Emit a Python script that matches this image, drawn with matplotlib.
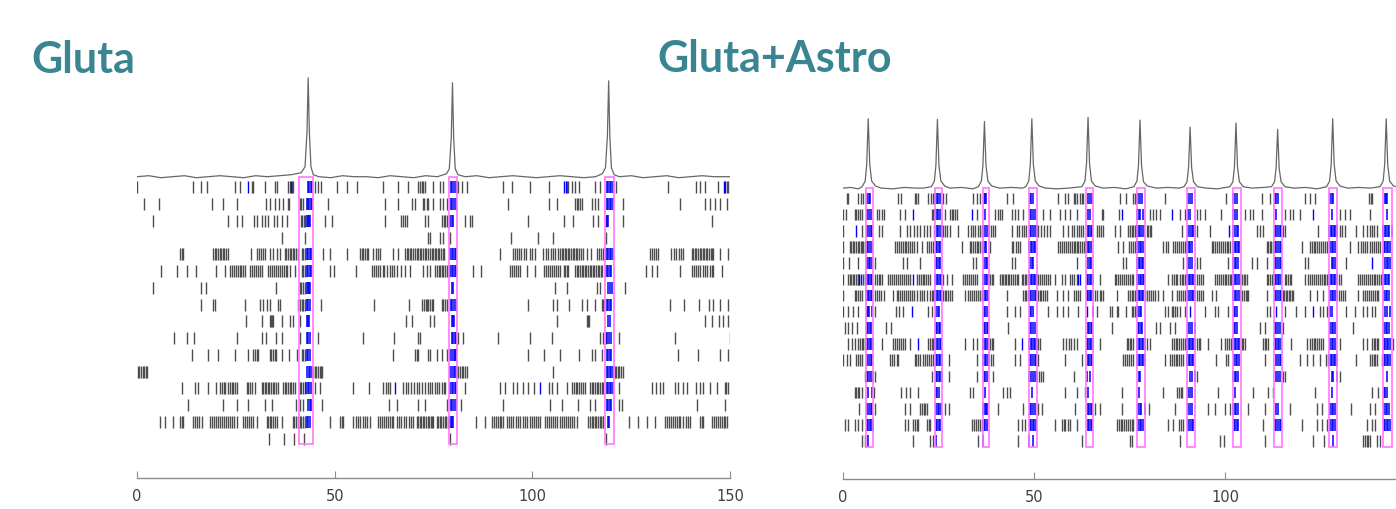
import numpy as np
import matplotlib
matplotlib.use("Agg")
import matplotlib.pyplot as plt
from matplotlib.patches import Rectangle

# --- Gluta panel: spike times (sec), one list per cell, top row first ---
gluta_spikes = [
    [0.1, 14.2, 16.1, 17.6, 24.8, 26.1, 29.0, 29.3, 32.4, 34.9, 35.3, 38.3, 38.7, 39.1, 39.5, 43.3, 43.6, 43.9, 44.2,
     45.0, 45.9, 46.5, 50.5, 53.0, 55.6, 62.3, 66.1, 68.6, 71.2, 71.6, 72.0, 72.4, 72.9, 75.0, 76.7, 77.3, 79.4, 79.8,
     80.2, 80.6, 80.9, 81.3, 82.1, 83.4, 92.7, 94.8, 99.3, 104.1, 108.8, 109.1, 110.0, 110.8, 111.9, 115.9, 117.1,
     118.8, 119.2, 119.6, 120.0, 120.4, 121.2, 134.2, 141.4, 142.4, 143.7, 146.9, 149.2, 149.6],
    [1.8, 5.6, 18.9, 21.8, 25.2, 32.6, 33.6, 34.9, 36.0, 37.0, 38.3, 38.5, 41.2, 41.6, 42.1, 43.0, 43.3, 43.6, 43.9,
     44.2, 48.4, 62.7, 66.1, 69.5, 70.2, 72.4, 72.6, 73.3, 73.7, 75.0, 76.7, 77.5, 78.3, 79.4, 79.8, 80.2, 80.6, 93.9,
     104.1, 106.2, 110.8, 111.2, 111.6, 112.0, 112.5, 115.0, 115.9, 116.7, 118.8, 119.2, 119.6, 120.0, 120.3, 122.9,
     137.4, 143.7, 145.0, 146.2, 147.5, 149.2],
    [4.0, 23.1, 25.2, 26.5, 29.6, 30.3, 31.5, 32.4, 33.2, 34.7, 35.3, 36.6, 37.9, 41.4, 41.8, 42.2, 42.5, 42.9, 43.2,
     43.5, 43.8, 47.6, 49.2, 62.7, 66.9, 67.3, 67.8, 68.2, 72.9, 73.7, 77.1, 77.6, 78.0, 78.4, 78.8, 79.3, 79.6, 80.0,
     83.0, 84.2, 84.7, 99.0, 107.9, 110.4, 115.4, 116.7, 118.6, 118.9, 119.2, 123.0, 145.4],
    [36.8, 42.6, 73.7, 74.1, 76.7, 77.5, 79.1, 94.5, 101.5, 105.3, 118.6],
    [10.9, 11.3, 11.6, 19.3, 19.7, 20.1, 20.5, 20.9, 21.3, 21.7, 22.1, 22.6, 23.1, 28.8, 30.3, 30.8, 31.3, 31.8, 32.4,
     33.6, 34.5, 35.3, 36.2, 37.4, 37.8, 38.2, 38.6, 39.0, 39.4, 39.8, 40.2, 40.6, 41.7, 42.1, 42.5, 42.9, 43.3, 43.7,
     44.1, 47.1, 48.8, 53.0, 56.4, 56.8, 57.2, 57.7, 58.1, 58.5, 59.8, 60.4, 61.0, 61.5, 64.8, 66.1, 67.8, 68.2, 68.6,
     69.0, 69.4, 69.9, 70.3, 70.7, 71.1, 71.5, 71.9, 72.4, 72.8, 73.2, 73.7, 74.1, 74.5, 74.9, 75.3, 75.7, 76.1, 76.5,
     76.9, 77.3, 77.7, 79.3, 79.6, 80.0, 80.4, 80.8, 91.7, 95.2, 95.7, 96.2, 96.6, 97.1, 97.8, 98.5, 99.3, 100.0,
     100.7, 102.8, 103.4, 104.0, 104.6, 105.2, 105.8, 106.4, 107.0, 107.4, 107.8, 108.2, 108.6, 109.0, 109.4, 109.8,
     110.2, 110.6, 111.0, 111.4, 111.8, 112.2, 112.9, 113.8, 114.8, 116.3, 116.8, 117.3, 117.9, 118.4, 118.8, 119.2,
     119.6, 120.0, 120.4, 129.8, 130.3, 130.9, 131.4, 131.9, 135.2, 135.8, 136.4, 137.0, 137.6, 138.2, 140.3, 140.7,
     141.1, 141.5, 141.9, 142.3, 142.7, 143.1, 143.5, 143.9, 144.3, 144.7, 145.1, 145.5, 145.8, 147.5, 149.6],
    [6.0, 10.2, 12.7, 14.9, 20.0, 22.3, 23.5, 24.0, 24.5, 25.0, 25.5, 26.0, 26.4, 26.9, 27.3, 28.6, 29.1, 29.6, 30.1,
     30.6, 31.0, 31.5, 33.2, 33.7, 34.2, 34.7, 35.2, 35.7, 36.2, 36.7, 37.2, 37.6, 37.9, 38.7, 40.0, 41.7, 42.1, 42.5,
     42.9, 43.3, 43.7, 44.1, 48.8, 49.8, 55.4, 59.4, 59.9, 60.4, 61.0, 61.5, 62.1, 62.6, 63.2, 64.0, 64.6, 65.1, 65.7,
     66.9, 67.8, 69.1, 72.4, 73.3, 74.1, 75.4, 75.8, 76.3, 76.7, 77.1, 77.5, 77.9, 78.4, 78.8, 79.3, 79.6, 80.0, 80.4,
     80.8, 84.9, 86.9, 94.4, 94.9, 95.4, 95.9, 96.4, 96.9, 98.6, 100.7, 103.0, 103.5, 104.0, 104.5, 105.0, 105.5,
     106.0, 106.5, 107.0, 107.9, 108.3, 108.7, 109.1, 110.8, 111.2, 111.6, 112.0, 112.5, 112.9, 113.3, 113.7, 114.1,
     114.5, 114.9, 115.3, 115.7, 116.1, 116.5, 116.9, 117.3, 117.5, 118.3, 118.8, 119.2, 119.6, 120.0, 128.8, 130.2,
     131.5, 137.4, 140.3, 140.8, 141.3, 141.9, 142.5, 143.1, 143.7, 144.3, 144.9, 145.4, 145.8, 147.9],
    [4.0, 16.1, 17.5, 35.2, 41.2, 41.6, 42.0, 42.4, 42.9, 43.2, 43.5, 43.8, 79.6, 80.0, 105.7, 108.7, 116.3, 117.1,
     119.2, 119.6, 120.1, 123.4],
    [16.1, 19.3, 19.7, 27.3, 31.1, 31.9, 32.8, 33.6, 35.7, 36.2, 40.8, 41.2, 41.7, 42.1, 42.5, 42.9, 43.3, 43.7, 46.5,
     60.0, 68.9, 72.0, 72.5, 73.0, 73.4, 73.7, 74.1, 74.6, 75.0, 77.1, 77.5, 77.9, 78.3, 79.4, 79.8, 80.2, 80.6, 99.0,
     105.3, 106.3, 109.4, 112.5, 113.8, 115.9, 117.5, 117.9, 118.2, 118.8, 119.2, 119.6, 120.0, 134.7, 138.4, 142.2,
     144.8, 145.6, 147.5, 149.6],
    [27.6, 31.5, 33.6, 33.9, 34.2, 34.5, 36.6, 38.7, 39.5, 41.2, 42.9, 43.2, 43.6, 68.0, 69.5, 74.1, 75.1, 79.6, 79.9,
     80.2, 106.3, 113.8, 114.1, 114.4, 119.2, 119.6, 143.7, 145.4, 147.3, 148.3, 149.6],
    [9.4, 12.6, 14.4, 25.4, 31.5, 32.6, 35.2, 36.8, 41.2, 42.9, 43.3, 43.8, 45.9, 57.1, 65.0, 71.2, 71.6, 79.6, 80.0,
     80.4, 80.7, 81.3, 82.4, 91.4, 99.4, 104.9, 117.1, 117.9, 118.6, 119.0, 119.4, 119.8, 121.9, 136.1, 149.9],
    [13.8, 18.0, 20.6, 24.8, 28.2, 29.4, 29.8, 30.3, 30.7, 33.6, 34.0, 34.4, 34.8, 35.2, 36.6, 38.5, 40.4, 41.7, 42.1,
     42.5, 42.9, 43.3, 43.8, 64.7, 70.3, 70.8, 71.2, 73.7, 74.1, 75.8, 77.1, 78.3, 79.3, 79.7, 80.1, 80.5, 80.8, 99.0,
     103.0, 107.0, 111.9, 115.0, 115.9, 117.5, 118.8, 119.2, 119.6, 120.0, 136.9, 141.8, 147.5, 149.6],
    [0.2, 0.6, 1.0, 1.4, 1.8, 2.2, 2.6, 43.0, 43.4, 43.8, 44.2, 44.6, 45.0, 45.4, 45.8, 46.2, 46.6, 46.9, 79.3, 79.7,
     80.1, 80.5, 80.9, 81.3, 81.7, 82.1, 82.5, 83.0, 83.4, 105.3, 118.8, 119.2, 119.6, 120.0, 120.4, 120.8, 121.2,
     121.6, 122.0, 122.5, 123.0],
    [11.3, 14.7, 15.5, 18.0, 19.9, 21.0, 21.4, 21.9, 22.3, 23.1, 23.5, 24.0, 24.4, 24.8, 25.2, 27.7, 28.1, 28.6, 29.0,
     29.8, 31.5, 31.9, 32.3, 32.7, 33.1, 33.5, 33.9, 34.3, 34.7, 35.1, 35.7, 37.0, 37.4, 37.8, 38.2, 38.6, 39.0, 39.4,
     40.0, 41.2, 41.6, 42.0, 42.4, 42.8, 43.2, 43.6, 44.0, 45.0, 46.3, 54.7, 58.8, 62.3, 62.9, 63.4, 64.0, 67.4, 68.0,
     68.6, 69.3, 70.0, 70.7, 71.4, 72.1, 72.8, 73.5, 74.1, 74.7, 75.3, 75.9, 76.5, 77.1, 77.6, 77.9, 79.3, 79.6, 80.0,
     80.4, 80.8, 83.0, 91.8, 93.1, 95.2, 96.0, 97.7, 99.0, 100.3, 104.1, 104.9, 106.2, 108.7, 110.0, 110.5, 111.0,
     111.4, 111.9, 112.4, 112.9, 113.3, 114.6, 115.0, 115.4, 115.9, 116.3, 116.7, 117.1, 117.6, 118.0, 118.8, 119.2,
     119.6, 120.0, 120.4, 122.0, 130.2, 131.3, 132.3, 133.1, 136.1, 136.9, 138.2, 139.0, 141.4, 142.4, 143.2, 144.9,
     146.6, 148.7, 149.1, 149.6],
    [13.0, 21.8, 25.4, 28.2, 32.4, 34.1, 40.2, 41.2, 42.1, 43.3, 43.7, 44.1, 46.9, 63.8, 65.7, 71.2, 72.9, 78.3, 79.4,
     79.8, 80.2, 80.6, 81.9, 92.7, 104.5, 107.4, 111.6, 114.6, 115.9, 118.8, 119.2, 119.6, 120.0, 121.8, 122.6, 141.6,
     148.7],
    [5.8, 7.1, 9.2, 10.9, 11.3, 11.7, 14.2, 14.7, 15.2, 15.7, 16.4, 18.5, 19.0, 19.5, 20.0, 20.5, 21.0, 21.5, 22.0,
     22.5, 23.0, 23.5, 24.0, 24.6, 25.2, 26.9, 27.4, 27.9, 28.4, 28.9, 29.4, 30.3, 32.8, 33.2, 33.6, 34.0, 34.4, 34.8,
     35.3, 36.8, 39.4, 39.8, 40.2, 40.6, 41.2, 41.6, 42.0, 42.5, 42.9, 43.3, 43.7, 48.7, 51.3, 51.8, 52.2, 54.7, 55.3,
     55.9, 56.5, 57.1, 57.7, 58.3, 58.9, 61.0, 61.5, 62.0, 62.5, 63.0, 63.5, 64.0, 64.4, 64.8, 65.7, 66.3, 66.9, 67.5,
     68.1, 68.7, 69.3, 69.9, 70.7, 71.1, 71.5, 71.9, 72.3, 72.7, 73.1, 73.5, 73.9, 74.3, 74.6, 75.0, 75.8, 76.2, 76.6,
     77.0, 77.4, 77.8, 78.2, 78.6, 79.0, 79.4, 79.8, 80.0, 85.8, 88.0, 89.7, 90.2, 90.7, 91.2, 91.7, 92.2, 92.7, 93.5,
     94.0, 94.6, 95.2, 95.8, 96.4, 97.0, 97.6, 98.1, 98.6, 99.4, 99.9, 100.5, 101.0, 101.5, 102.0, 103.2, 103.7, 104.2,
     104.7, 105.2, 105.7, 106.2, 107.0, 107.5, 108.0, 108.5, 109.0, 109.5, 110.0, 110.6, 111.2, 114.2, 114.6, 115.0,
     115.4, 115.8, 116.2, 116.6, 117.0, 117.4, 117.8, 118.0, 119.2, 119.5, 124.5, 126.8, 128.9, 131.0, 133.6, 134.1,
     134.6, 135.1, 135.6, 136.1, 136.6, 137.0, 137.4, 138.2, 138.8, 139.3, 139.9, 142.4, 142.8, 143.2, 145.4, 145.9,
     146.4, 146.9, 147.4, 147.9, 148.4, 148.8, 149.2],
    [33.4, 37.2, 39.7, 42.3, 79.1, 118.6],
]
gluta_boxes = [(41.1, 44.4), (79.0, 81.0), (118.4, 120.7)]
gluta_sync = [(42.7, 44.4), (79.2, 81.0), (118.7, 120.7)]
gluta_blue_extra = [(0, 28.2), (0, 38.9), (0, 108.0), (0, 108.4), (0, 148.4), (0, 148.8), (12, 65.3), (12, 102.0)]

# population trace (normalised to the tallest peak)
gluta_trace_t = [0, 3, 6, 9, 12, 15, 18, 21, 24, 27, 30, 33, 36, 39, 41.5, 42.5, 43.0, 43.3, 43.6, 44.0, 44.6,
                 46, 49, 52, 55, 58, 61, 64, 67, 70, 73, 76, 78.3, 79.0, 79.5, 79.8, 80.1, 80.5, 81.2,
                 83, 86, 89, 92, 95, 98, 101, 104, 107, 110, 113, 116, 117.7, 118.5, 119.0, 119.3, 119.6, 120.0,
                 120.7, 122, 125, 128, 131, 134, 137, 140, 143, 146, 150]
gluta_trace_y = [0.0, 0.01, -0.01, 0.0, 0.01, -0.01, 0.0, 0.01, 0.0, -0.01, 0.01, 0.0, 0.01, 0.02, 0.04, 0.10,
                 0.45, 1.0, 0.45, 0.10, 0.02, 0.0, -0.01, 0.01, 0.0, 0.0, -0.01, 0.01, 0.0, -0.01, 0.01, 0.0,
                 0.03, 0.08, 0.40, 0.95, 0.40, 0.08, 0.02, 0.0, 0.01, -0.01, 0.0, 0.01, 0.0, -0.01, 0.0, 0.01,
                 0.0, -0.01, 0.0, 0.03, 0.09, 0.42, 0.97, 0.42, 0.09, 0.02, 0.0, 0.01, -0.01, 0.0, 0.01, -0.01,
                 0.0, 0.01, 0.0, 0.0]

# --- Gluta+Astro panel ---
astro_spikes = [
    [1.0, 1.4, 4.0, 4.6, 5.3, 6.4, 6.8, 7.1, 14.5, 15.3, 18.8, 19.2, 19.7, 22.3, 22.9, 23.5, 24.1, 24.5, 24.9, 25.4,
     26.2, 26.9, 34.1, 35.0, 35.8, 36.9, 37.2, 37.4, 42.8, 44.4, 48.9, 49.3, 49.6, 56.3, 58.1, 58.9, 60.3, 60.8, 61.3,
     61.9, 62.4, 62.9, 64.2, 64.6, 65.1, 72.4, 74.0, 75.9, 76.3, 76.7, 77.2, 77.6, 78.1, 84.2, 90.3, 90.7, 91.2, 100.3,
     102.1, 102.5, 103.0, 109.5, 111.7, 113.0, 113.4, 113.9, 120.8, 122.1, 123.4, 127.4, 127.8, 128.2, 137.7, 138.0,
     138.3, 141.8, 142.1, 142.4],
    [0.1, 0.8, 3.1, 3.5, 4.0, 4.4, 4.9, 6.4, 6.8, 7.2, 8.8, 9.5, 10.1, 10.7, 14.9, 16.2, 23.2, 23.6, 24.1, 24.5, 24.9,
     25.4, 26.7, 28.0, 28.4, 28.8, 29.3, 29.7, 35.0, 37.1, 39.8, 40.6, 41.0, 41.5, 44.1, 45.0, 45.9, 47.2, 48.9, 49.3,
     49.7, 50.2, 52.4, 54.2, 56.8, 58.1, 59.4, 61.1, 64.2, 64.6, 67.7, 68.1, 72.3, 77.0, 77.4, 77.8, 78.4, 80.3, 81.2,
     81.9, 82.9, 88.1, 89.4, 90.3, 90.7, 92.5, 93.4, 94.7, 99.0, 102.1, 102.5, 103.0, 105.1, 106.4, 107.3, 109.5,
     113.4, 115.6, 116.9, 117.8, 119.5, 127.8, 130.0, 131.3, 132.6, 137.8, 142.2],
    [0.1, 4.9, 6.4, 6.8, 7.2, 7.5, 9.5, 10.1, 14.9, 16.7, 17.6, 18.5, 19.4, 20.2, 21.1, 22.0, 22.8, 23.7, 24.5, 24.9,
     25.4, 25.8, 26.1, 26.7, 27.3, 28.0, 30.2, 32.8, 33.4, 34.0, 34.6, 35.2, 35.8, 36.3, 36.7, 37.1, 37.6, 38.3, 38.8,
     39.3, 39.8, 44.1, 45.4, 46.1, 46.7, 47.4, 48.0, 48.9, 49.3, 49.8, 50.2, 50.7, 51.1, 51.8, 52.5, 53.3, 54.2, 57.6,
     58.9, 59.8, 60.4, 61.1, 61.7, 62.3, 62.9, 64.0, 64.4, 64.8, 65.2, 66.4, 67.0, 67.6, 68.1, 71.2, 72.4, 74.6, 75.0,
     75.5, 75.9, 76.3, 76.6, 77.0, 77.4, 77.8, 78.3, 78.7, 79.4, 79.8, 80.3, 80.7, 88.6, 90.3, 90.7, 91.2, 91.6, 92.0,
     92.5, 96.0, 102.1, 102.5, 103.0, 103.4, 108.2, 109.1, 109.9, 113.0, 113.4, 113.8, 114.2, 114.7, 115.1, 115.6,
     124.3, 127.2, 127.6, 128.0, 128.4, 128.7, 129.3, 129.9, 130.5, 131.3, 134.3, 136.1, 137.0, 137.8, 138.4, 139.0,
     139.6, 141.3, 141.7, 142.1, 142.5, 142.9, 143.5],
    [0.1, 1.8, 2.2, 2.6, 3.0, 3.4, 3.8, 4.2, 4.6, 5.0, 5.3, 5.8, 6.2, 6.6, 7.0, 7.5, 13.6, 14.1, 14.6, 15.1, 15.6,
     16.1, 16.6, 17.1, 17.6, 18.1, 18.7, 19.3, 20.6, 21.9, 22.5, 23.0, 23.6, 24.2, 24.6, 25.0, 25.4, 31.0, 33.2, 33.6,
     34.0, 34.5, 35.0, 35.4, 35.9, 36.3, 36.7, 37.1, 37.5, 38.5, 44.1, 44.6, 45.2, 45.7, 46.3, 48.7, 49.1, 49.5, 49.9,
     50.3, 56.3, 56.8, 57.3, 57.8, 58.3, 58.8, 59.3, 59.8, 60.3, 60.8, 61.2, 61.6, 62.0, 62.5, 63.0, 63.6, 64.0, 64.4,
     64.8, 72.0, 73.3, 74.9, 75.3, 75.8, 76.4, 76.8, 77.2, 77.6, 78.0, 78.4, 83.8, 84.4, 85.1, 86.4, 86.9, 87.4, 87.9,
     88.4, 88.9, 89.4, 90.0, 90.4, 90.8, 91.2, 96.4, 96.9, 97.4, 97.9, 98.4, 98.9, 99.4, 99.9, 100.4, 100.8, 101.2,
     102.1, 102.5, 102.9, 103.3, 103.7, 110.8, 111.2, 111.6, 112.0, 112.5, 113.0, 113.4, 113.8, 114.2, 114.7, 120.0,
     122.1, 122.6, 123.1, 123.6, 124.1, 124.6, 125.1, 125.6, 126.1, 126.5, 127.4, 127.8, 128.2, 128.6, 132.6, 134.8,
     135.4, 136.0, 136.5, 137.0, 137.8, 138.3, 138.9, 139.5, 140.0, 140.4, 141.5, 141.9, 142.3, 142.7, 143.1],
    [0.1, 1.7, 4.0, 6.4, 6.8, 7.1, 7.5, 8.4, 15.8, 16.8, 20.1, 24.2, 24.6, 25.0, 25.4, 33.9, 34.8, 37.0, 37.4, 37.8,
     44.1, 45.0, 49.0, 49.4, 49.8, 61.1, 64.2, 64.6, 65.0, 73.3, 74.0, 77.0, 77.4, 77.8, 78.2, 78.6, 89.0, 90.3, 90.7,
     91.2, 92.5, 93.4, 100.8, 102.1, 102.5, 102.9, 103.4, 106.9, 108.2, 110.8, 113.0, 113.4, 113.8, 114.2, 114.7,
     120.8, 121.7, 127.8, 128.2, 128.6, 131.7, 141.8, 142.2, 142.6, 143.0],
    [0.1, 1.4, 1.8, 2.2, 2.6, 3.0, 3.4, 3.8, 4.0, 5.3, 5.7, 6.1, 6.5, 6.9, 7.3, 7.7, 8.4, 8.8, 9.3, 9.7, 10.1, 11.9,
     12.4, 12.9, 13.4, 13.9, 14.4, 14.9, 15.4, 15.9, 16.4, 16.9, 17.5, 19.3, 19.8, 20.3, 20.8, 21.3, 21.8, 22.3, 22.8,
     24.1, 24.5, 24.9, 25.3, 25.7, 26.1, 27.1, 28.4, 31.5, 32.0, 32.5, 33.0, 33.5, 34.0, 34.5, 35.0, 36.6, 37.0, 37.4,
     37.8, 38.2, 38.5, 38.9, 39.3, 41.1, 41.5, 41.9, 42.3, 42.7, 43.1, 43.5, 43.9, 44.4, 44.9, 45.4, 45.9, 46.7, 47.1,
     47.5, 47.9, 48.3, 48.7, 49.1, 49.5, 49.9, 50.3, 50.7, 51.1, 51.6, 52.1, 52.6, 53.1, 53.6, 54.2, 55.5, 57.2, 58.1,
     59.4, 59.9, 60.4, 61.1, 63.7, 64.1, 64.5, 64.9, 65.3, 67.2, 71.1, 71.5, 72.0, 72.5, 73.0, 73.5, 74.0, 74.5, 75.0,
     75.5, 75.9, 76.8, 77.2, 77.6, 78.0, 78.4, 78.8, 85.1, 86.0, 86.5, 87.0, 87.5, 88.1, 88.6, 89.0, 89.5, 90.0, 90.4,
     90.8, 91.2, 91.6, 92.0, 92.5, 93.0, 93.6, 94.2, 97.3, 97.8, 98.3, 98.8, 99.3, 99.8, 100.3, 100.8, 101.2, 101.6,
     102.1, 102.5, 102.9, 103.3, 103.8, 104.3, 104.8, 105.2, 105.6, 110.8, 111.2, 111.7, 112.1, 112.5, 112.9, 113.3,
     113.7, 114.1, 114.5, 115.6, 116.0, 116.5, 116.9, 117.3, 120.8, 121.7, 122.2, 122.7, 123.2, 123.7, 124.2, 124.7,
     125.2, 125.7, 126.2, 126.7, 127.2, 127.6, 128.0, 128.4, 128.8, 129.3, 129.8, 130.4, 134.8, 135.3, 135.8, 136.3,
     136.8, 137.3, 137.8, 138.3, 138.8, 139.3, 139.8, 140.3, 140.8, 141.3, 141.7, 142.1, 142.5, 142.9],
    [0.1, 3.1, 3.5, 4.0, 4.4, 4.9, 6.1, 6.5, 6.9, 7.3, 7.7, 8.4, 8.9, 9.4, 9.9, 10.6, 13.2, 14.0, 14.5, 15.0, 15.5,
     16.0, 16.5, 17.0, 17.5, 18.0, 18.6, 19.3, 20.1, 20.7, 21.3, 21.9, 22.8, 23.2, 23.6, 24.1, 24.5, 24.9, 25.3, 25.7,
     26.2, 26.6, 27.0, 27.5, 28.0, 28.4, 31.9, 32.8, 33.3, 33.8, 34.3, 34.8, 35.3, 35.8, 36.3, 36.7, 37.1, 37.5, 37.9,
     42.8, 47.2, 47.6, 48.0, 48.5, 48.9, 49.3, 49.7, 50.1, 50.5, 51.1, 51.5, 51.9, 52.4, 52.9, 53.3, 55.9, 57.6, 58.9,
     60.3, 60.9, 61.4, 62.0, 63.8, 64.2, 64.6, 65.0, 65.5, 66.0, 66.5, 67.1, 67.6, 68.1, 71.6, 74.6, 75.0, 75.5, 75.9,
     76.4, 77.0, 77.4, 77.8, 78.1, 78.6, 79.1, 79.6, 80.1, 80.6, 81.1, 81.6, 82.5, 83.8, 86.0, 87.3, 87.8, 88.3, 88.9,
     89.4, 90.3, 90.7, 91.2, 91.6, 92.0, 92.5, 93.0, 93.6, 94.2, 96.4, 97.5, 102.1, 102.5, 102.9, 103.3, 103.8, 104.3,
     104.8, 105.3, 105.6, 106.0, 110.8, 113.0, 113.4, 113.8, 114.2, 114.6, 115.0, 115.4, 115.8, 116.2, 116.6, 117.0,
     117.4, 117.8, 122.1, 123.9, 125.6, 127.4, 127.8, 128.2, 128.7, 129.2, 129.7, 130.2, 130.7, 131.3, 134.8, 136.1,
     136.6, 137.1, 137.6, 138.1, 138.6, 139.1, 139.6, 140.0, 141.6, 142.0, 142.4, 142.8],
    [0.1, 1.4, 2.7, 4.0, 6.2, 6.6, 6.9, 7.5, 8.4, 13.9, 14.7, 15.6, 22.3, 23.2, 24.4, 24.8, 25.2, 36.8, 37.2, 37.6,
     42.8, 45.0, 46.3, 48.9, 49.3, 49.8, 53.7, 55.9, 57.6, 58.9, 61.6, 65.5, 66.4, 69.9, 70.3, 71.6, 72.0, 74.0, 75.5,
     75.9, 76.3, 76.8, 77.2, 77.6, 78.0, 84.2, 85.1, 86.0, 86.4, 86.9, 87.3, 88.1, 89.4, 94.7, 97.3, 98.2, 100.8,
     102.2, 102.6, 103.0, 110.8, 111.8, 115.6, 118.6, 120.8, 124.8, 125.6, 126.5, 127.4, 127.8, 131.7, 133.9, 136.1,
     137.0, 138.3, 139.1, 141.8, 142.2, 143.1],
    [0.5, 1.4, 2.3, 3.6, 6.2, 6.6, 7.0, 7.4, 11.2, 12.5, 24.3, 24.7, 25.1, 25.5, 36.8, 37.2, 37.6, 38.0, 43.2, 48.9,
     49.3, 49.7, 50.1, 64.0, 64.4, 64.8, 65.2, 70.3, 77.1, 77.5, 77.9, 78.3, 82.0, 82.9, 85.5, 86.8, 90.3, 90.7, 91.2,
     92.0, 102.2, 102.6, 103.0, 109.1, 110.4, 113.0, 113.4, 113.8, 114.2, 115.2, 127.4, 127.8, 128.2, 128.6, 133.5,
     141.6, 142.0, 142.4, 142.8],
    [1.4, 2.3, 3.1, 4.0, 4.4, 4.9, 5.3, 5.8, 6.2, 6.6, 7.0, 7.4, 7.9, 10.1, 13.2, 13.7, 14.2, 14.7, 15.2, 15.8, 16.2,
     17.4, 22.3, 22.8, 23.2, 23.6, 24.1, 24.5, 24.9, 25.3, 25.7, 31.9, 34.1, 35.0, 36.7, 37.1, 37.5, 37.9, 38.5, 38.9,
     39.3, 45.0, 48.7, 49.1, 49.5, 49.9, 50.3, 50.7, 51.1, 51.5, 57.6, 58.3, 59.0, 59.7, 60.4, 61.1, 63.7, 64.1, 64.5,
     64.9, 65.3, 67.2, 74.2, 74.6, 75.0, 75.4, 75.9, 77.0, 77.4, 77.8, 78.2, 78.6, 79.0, 79.5, 80.3, 86.0, 86.5, 87.0,
     87.5, 88.0, 88.5, 89.0, 89.4, 90.0, 90.4, 90.8, 91.2, 91.6, 92.0, 92.5, 93.0, 93.4, 95.5, 99.0, 99.9, 100.5,
     101.0, 101.6, 102.1, 102.5, 102.9, 103.3, 103.7, 104.3, 104.7, 105.1, 109.9, 110.3, 110.7, 111.2, 112.9, 113.3,
     113.7, 114.1, 114.5, 117.3, 121.3, 122.1, 122.6, 123.1, 123.6, 124.1, 124.6, 125.1, 125.6, 127.4, 127.8, 128.2,
     128.6, 130.0, 136.1, 137.0, 138.3, 138.8, 139.3, 139.7, 140.0, 141.5, 141.9, 142.3, 142.7, 143.1, 143.8],
    [0.1, 1.0, 1.8, 3.4, 3.9, 4.4, 4.9, 6.4, 6.8, 7.2, 7.6, 12.3, 12.9, 13.4, 14.0, 14.5, 18.8, 19.2, 19.6, 20.1,
     21.0, 21.5, 22.0, 22.6, 23.1, 23.6, 24.2, 24.6, 25.0, 25.4, 25.8, 27.6, 35.0, 36.7, 37.1, 37.5, 37.9, 38.3, 38.8,
     39.3, 45.0, 46.3, 48.9, 49.3, 49.7, 50.1, 50.5, 51.1, 58.1, 62.4, 64.0, 64.4, 64.8, 65.2, 73.3, 73.8, 74.3, 74.8,
     75.3, 75.9, 77.0, 77.4, 77.8, 78.2, 78.6, 79.0, 84.2, 85.5, 86.0, 86.5, 87.0, 87.5, 88.0, 88.5, 89.0, 90.0, 90.4,
     90.8, 91.2, 91.6, 97.7, 100.3, 100.8, 102.3, 102.7, 103.1, 103.5, 110.4, 113.4, 113.8, 114.2, 114.6, 119.5, 121.3,
     123.0, 124.8, 126.4, 126.8, 127.2, 127.6, 128.0, 128.4, 128.8, 129.2, 134.3, 137.8, 138.3, 138.8, 139.2, 139.6,
     140.9, 141.4, 141.8, 142.2, 142.6, 143.0],
    [5.8, 6.2, 6.6, 7.0, 7.5, 7.9, 8.4, 23.2, 24.2, 24.6, 25.0, 25.4, 25.8, 27.6, 35.0, 36.8, 37.2, 37.6, 39.3, 48.7,
     49.2, 49.7, 50.2, 50.7, 51.2, 51.8, 52.4, 60.3, 63.7, 64.6, 77.4, 77.8, 90.7, 91.2, 92.0, 92.5, 102.1, 102.5,
     102.9, 103.4, 113.4, 113.8, 114.3, 115.2, 115.6, 127.8, 128.2, 129.1, 130.0, 142.2],
    [3.1, 3.5, 3.9, 4.3, 4.9, 6.6, 7.5, 8.1, 15.1, 16.5, 17.5, 19.7, 24.3, 24.7, 25.1, 33.2, 34.1, 37.1, 41.9, 42.8,
     43.8, 49.4, 58.1, 61.1, 63.3, 64.2, 72.9, 77.5, 83.8, 87.3, 87.8, 88.3, 88.6, 90.3, 90.7, 91.2, 98.2, 102.5,
     107.3, 111.2, 112.5, 123.4, 127.8, 138.3, 140.0, 141.5, 141.9, 142.3],
    [4.3, 6.4, 6.8, 7.2, 7.5, 8.4, 16.2, 17.4, 20.1, 20.6, 21.1, 21.5, 21.9, 24.4, 24.8, 25.2, 25.6, 26.7, 27.6, 36.7,
     37.1, 37.5, 37.8, 40.6, 47.2, 48.9, 49.3, 49.7, 50.1, 51.1, 52.0, 60.7, 64.0, 64.4, 64.8, 65.2, 65.9, 67.2, 73.1,
     77.2, 77.6, 78.0, 79.0, 80.1, 86.8, 90.3, 90.7, 91.2, 95.5, 97.3, 99.9, 101.2, 102.1, 102.5, 102.9, 103.4, 106.0,
     110.4, 113.4, 113.8, 116.9, 123.9, 125.2, 127.4, 127.8, 128.2, 128.7, 133.0, 137.8, 139.1, 141.6, 142.0, 142.4,
     142.8],
    [0.5, 1.4, 3.1, 4.0, 4.9, 6.2, 6.6, 7.0, 7.4, 7.8, 16.2, 17.1, 18.4, 18.8, 19.3, 19.7, 21.9, 22.4, 22.8, 24.3,
     24.7, 25.1, 25.5, 33.7, 34.2, 34.7, 35.2, 35.8, 36.3, 36.8, 37.2, 37.6, 45.9, 46.7, 47.6, 48.8, 49.2, 49.6, 50.0,
     50.4, 55.5, 57.2, 57.7, 58.2, 58.8, 59.4, 61.1, 64.0, 64.4, 64.8, 65.2, 71.6, 72.1, 72.6, 73.1, 73.6, 74.1, 74.6,
     75.1, 75.5, 75.9, 77.2, 77.6, 78.0, 78.4, 85.1, 86.2, 88.0, 88.5, 89.0, 90.3, 90.7, 91.2, 91.6, 102.2, 102.6,
     103.0, 103.4, 109.9, 113.0, 113.4, 113.8, 114.2, 114.6, 120.0, 123.9, 125.2, 126.5, 127.4, 127.8, 128.2, 128.6,
     137.0, 138.3, 139.1, 141.5, 141.9, 142.3, 142.7, 143.1],
    [5.1, 5.8, 6.6, 18.2, 22.8, 23.6, 24.3, 35.4, 36.7, 45.9, 48.7, 49.8, 62.4, 75.0, 75.7, 88.1, 98.6, 99.6, 110.4,
     123.0, 125.8, 128.2, 136.1, 136.5, 137.0, 137.4, 137.8, 139.6, 140.4],
]
astro_boxes = [(6.0, 7.9), (24.1, 26.0), (36.5, 38.3), (48.7, 50.7), (63.6, 65.5), (76.8, 79.0),
               (89.9, 92.1), (102.1, 104.0), (112.7, 114.9), (127.2, 129.3), (141.3, 143.5)]
astro_sync = astro_boxes
astro_blue_extra = [(1, 18.4), (1, 33.7), (1, 73.1), (1, 86.0), (1, 123.0), (2, 3.4), (2, 101.0), (4, 138.3),
                    (5, 4.3), (5, 4.6), (5, 18.4), (5, 61.5), (5, 62.0), (7, 18.0), (7, 63.7), (7, 90.7),
                    (7, 113.4), (7, 123.0), (9, 19.7), (9, 46.7)]

astro_trace_t = [0, 2, 4, 5.0, 5.8, 6.2, 6.6, 7.0, 7.5, 8.5, 10, 13, 16, 19, 21, 23.1, 23.9, 24.3, 24.7, 25.1,
                 25.6, 26.6, 28, 31, 34, 35.4, 36.2, 36.6, 37.0, 37.4, 37.9, 38.9, 41, 44, 47, 47.8, 48.6, 49.0,
                 49.4, 49.8, 50.3, 51.3, 53, 56, 59, 62.5, 63.3, 63.7, 64.1, 64.5, 65.0, 66.0, 68, 71, 74, 76.1,
                 76.9, 77.3, 77.7, 78.1, 78.6, 79.6, 82, 85, 88, 89.2, 90.0, 90.4, 90.8, 91.2, 91.7, 92.7, 95, 98,
                 101.2, 102.0, 102.4, 102.8, 103.2, 103.7, 104.7, 107, 110, 112.1, 112.9, 113.3, 113.7, 114.1, 114.6,
                 115.6, 118, 121, 124, 126.5, 127.3, 127.7, 128.1, 128.5, 129.0, 130.0, 132, 135, 138, 140.5, 141.3,
                 141.7, 142.1, 142.5, 143.0, 144.0, 146.5]
astro_trace_y = [0.0, 0.01, -0.01, 0.02, 0.10, 0.33, 0.98, 0.33, 0.10, 0.03, 0.0, -0.01, 0.01, 0.0, 0.0, 0.02,
                 0.10, 0.32, 0.97, 0.32, 0.10, 0.03, 0.0, 0.01, -0.01, 0.02, 0.10, 0.32, 0.94, 0.32, 0.10, 0.03,
                 0.0, 0.01, 0.0, 0.02, 0.10, 0.33, 0.98, 0.33, 0.10, 0.03, 0.0, -0.01, 0.0, 0.02, 0.10, 0.34, 1.0,
                 0.34, 0.10, 0.03, 0.0, 0.01, -0.01, 0.02, 0.10, 0.32, 0.96, 0.32, 0.09, 0.03, 0.0, 0.01, 0.0, 0.02,
                 0.09, 0.29, 0.86, 0.29, 0.09, 0.02, 0.0, -0.01, 0.02, 0.09, 0.30, 0.92, 0.30, 0.09, 0.02, 0.0,
                 0.01, 0.02, 0.09, 0.28, 0.83, 0.28, 0.09, 0.02, 0.0, 0.01, -0.01, 0.02, 0.10, 0.33, 0.98, 0.33,
                 0.10, 0.03, 0.0, 0.01, 0.0, 0.02, 0.10, 0.33, 0.98, 0.33, 0.10, 0.03, 0.0]

titleColor = "#3a8592"
tickGray = "0.3"
boxColor = "#ff77ff"
leftTicks = [0, 50, 100, 150]
rightTicks = [0, 50, 100]

figW, figH = 1396.0, 509.0
figure = plt.figure(figsize=(figW / 100, figH / 100), dpi=100)


def inWindows(times, windows):
    mask = np.zeros(len(times), dtype=bool)
    for a, b in windows:
        mask |= (times >= a) & (times <= b)
    return mask


def drawPanel(axes, rows, boxes, sync, blueExtra, traceT, traceY, amplitude, ticks):
    nRows = len(rows)
    for i, spikes in enumerate(rows):
        y = nRows - 1 - i
        s = np.asarray(spikes)
        blue = inWindows(s, sync)
        axes.vlines(s[~blue], y - 0.36, y + 0.36, color=tickGray, lw=1.0)
        axes.vlines(s[blue], y - 0.36, y + 0.36, color="#0000ff", lw=1.1)
    for i, t in blueExtra:
        y = nRows - 1 - i
        axes.vlines(t, y - 0.36, y + 0.36, color="#0000ff", lw=1.0)

    base = nRows - 1 + 0.64
    for a, b in boxes:
        axes.add_patch(Rectangle((a, -0.34), b - a, base + 0.34, fill=False,
                                 edgecolor=boxColor, lw=1.2, zorder=5))
    axes.plot(traceT, base + amplitude * np.asarray(traceY), color="0.4", lw=0.9)

    axes.set_xlim(0, 150)
    axes.set_ylim(-2.33, 22)
    for side in ["top", "left", "right"]:
        axes.spines[side].set_visible(False)
    axes.spines["bottom"].set_color("0.55")
    axes.spines["bottom"].set_linewidth(1.0)
    axes.set_yticks([])
    axes.set_xticks(ticks)
    axes.tick_params(axis="x", direction="in", length=5, color="0.55",
                     labelsize=10.5, labelcolor="0.25", pad=8)
    axes.set_xlabel("Time (sec)", fontsize=10.5, color="0.25", labelpad=4)


# left panel: x 0..150 -> 137..730 px, axis line at 477.7 px, 16.75 px per row
leftAxes = figure.add_axes([137 / figW, (figH - 477.7) / figH, 593 / figW, 24.33 * 16.75 / figH])
drawPanel(leftAxes, gluta_spikes, gluta_boxes, gluta_sync, gluta_blue_extra,
          gluta_trace_t, gluta_trace_y, 5.9, leftTicks)

# right panel runs past the figure edge, as in the reference crop
rightAxes = figure.add_axes([843 / figW, (figH - 478.7) / figH, 573.4 / figW, 24.33 * 16.17 / figH])
drawPanel(rightAxes, astro_spikes, astro_boxes, astro_sync, astro_blue_extra,
          astro_trace_t, astro_trace_y, 4.38, rightTicks)

figure.text(31 / figW, 1 - 73.3 / figH, "Gluta", fontsize=31, fontweight="bold",
            family=["Lato", "DejaVu Sans"], color=titleColor, va="baseline", ha="left")
figure.text(657 / figW, 1 - 72.0 / figH, "Gluta+Astro", fontsize=31, fontweight="bold",
            family=["Lato", "DejaVu Sans"], color=titleColor, va="baseline", ha="left")

figure.savefig("out.png", dpi=100)
